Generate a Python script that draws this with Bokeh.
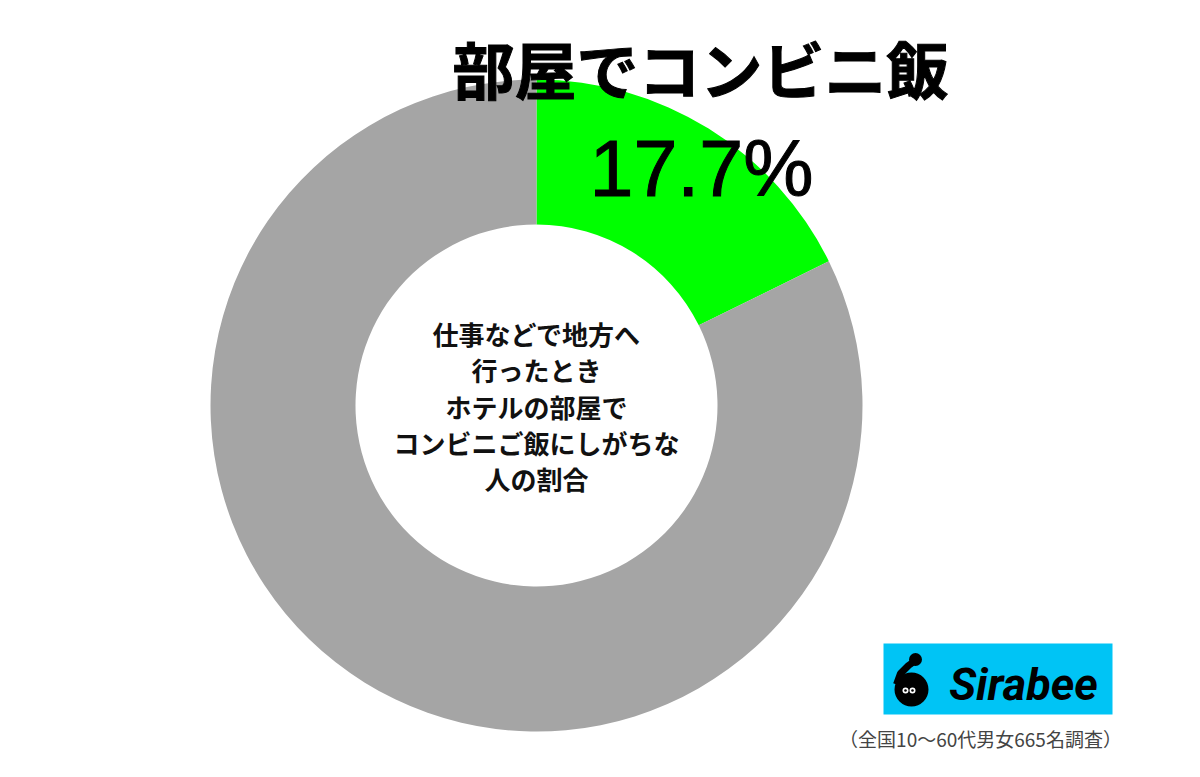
from bokeh.plotting import figure
from bokeh.models import Range1d, ColumnDataSource
from bokeh.core.properties import value
from bokeh.embed import file_html
from bokeh.resources import INLINE
import numpy as np

# ---- data ----
categories = ["部屋でコンビニ飯", "その他"]
shares = [17.7, 82.3]
colors = ["#00ff00", "#a5a5a5"]
title_text = "部屋でコンビニ飯"
value_label = "17.7%"
center_lines = ["仕事などで地方へ", "行ったとき", "ホテルの部屋で", "コンビニご飯にしがちな", "人の割合"]
brand = "Sirabee"
footnote = "（全国10〜60代男女665名調査）"

W, H = 1184, 761
def Y(v):
    return 777 - v

p = figure(width=W, height=H, x_range=Range1d(0, W), y_range=Range1d(777 - H, 777),
           output_backend="svg", toolbar_location=None, min_border=0)
p.axis.visible = False
p.grid.visible = False
p.outline_line_color = None
p.background_fill_color = "white"
p.border_fill_color = "white"

cx, cy = 536, 405
frac = np.array(shares) / sum(shares)
cum = np.concatenate([[0], np.cumsum(frac)])
starts = np.pi / 2 - 2 * np.pi * cum[:-1]
ends = np.pi / 2 - 2 * np.pi * cum[1:]
src = ColumnDataSource(dict(start=starts, end=ends, color=colors, name=categories))
p.annular_wedge(x=cx, y=Y(cy), inner_radius=181, outer_radius=326,
                start_angle="start", end_angle="end", direction="clock",
                fill_color="color", line_color=None, source=src)

# title
p.text(x=[700], y=[Y(67)], text=[title_text], text_font=value("Noto Sans CJK JP"),
       text_font_style="bold", text_font_size="62px", text_align="center",
       text_baseline="middle", text_color="black", text_outline_color="black")
# value
p.text(x=[701], y=[Y(168)], text=[value_label],
       text_font=value("Liberation Sans"),
       text_font_size="79px", text_align="center", text_baseline="middle", text_color="black",
       text_outline_color="black")

# center text
ys = [333 + 36.3 * i for i in range(len(center_lines))]
p.text(x=[cx] * len(center_lines), y=[Y(v) for v in ys], text=center_lines,
       text_font=value("Noto Sans CJK JP"), text_font_style="bold", text_font_size="26px",
       text_align="center", text_baseline="middle", text_color="#111111")

# logo box
p.quad(left=[883], right=[1112], top=[Y(643)], bottom=[Y(714)], fill_color="#00c4f5", line_color=None)
p.circle(x=[911], y=[Y(689)], radius=17, fill_color="black", line_color=None)
p.line(x=[915, 908, 900, 896], y=[Y(v) for v in [660, 665, 673, 684]], line_color="black", line_width=7)
p.circle(x=[915], y=[Y(659)], radius=6.5, fill_color="black", line_color=None)
p.circle(x=[905, 912], y=[Y(690), Y(690)], radius=3, fill_color="white", line_color=None)
p.circle(x=[905, 912], y=[Y(690), Y(690)], radius=1.3, fill_color="black", line_color=None)
p.text(x=[1023], y=[Y(684)], text=[brand], text_font=value("Roboto"), text_font_style="bold italic",
       text_font_size="45px", text_align="center", text_baseline="middle", text_color="black")

# footnote
p.text(x=[980], y=[Y(738)], text=[footnote], text_font=value("Noto Sans CJK JP"),
       text_font_size="19px", text_align="center", text_baseline="middle", text_color="#444444")

open("out.html", "w").write(file_html(p, INLINE))
